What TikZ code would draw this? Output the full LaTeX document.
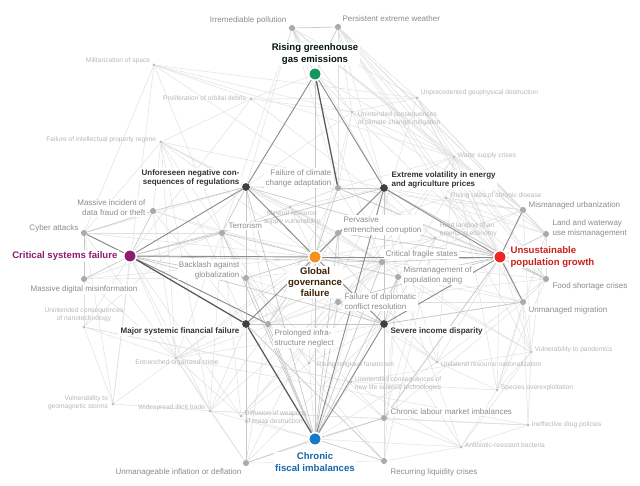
\documentclass[tikz,border=0pt]{standalone}
\usepackage{fontspec}
\setmainfont{Liberation Sans}
\usetikzlibrary{backgrounds}
\definecolor{verde}{HTML}{12975F}
\definecolor{morado}{HTML}{8C1D6F}
\definecolor{naranja}{HTML}{F5901E}
\definecolor{rojo}{HTML}{EC2620}
\definecolor{azul}{HTML}{1A78C8}

\begin{document}
\begin{tikzpicture}[
  x=0.75pt, y=-0.75pt,
  hub/.style={circle, inner sep=0pt, minimum size=9.5pt, draw=white, line width=1.2pt},
  key/.style={circle, inner sep=0pt, minimum size=5.8pt, fill=black!75},
  risk/.style={circle, inner sep=0pt, minimum size=4.6pt, fill=black!33},
  minor/.style={circle, inner sep=0pt, minimum size=2.4pt, fill=black!25},
  hublab/.style={font=\fontsize{7.2}{8.4}\selectfont\bfseries, align=center, inner sep=1pt, fill=white},
  keylab/.style={font=\fontsize{6}{7}\selectfont\bfseries, text=black!80, inner sep=1pt, fill=white},
  risklab/.style={font=\fontsize{6}{7.4}\selectfont, text=black!45, inner sep=1pt, fill=white},
  minorlab/.style={font=\fontsize{5}{6}\selectfont, text=black!28, inner sep=0.5pt},
  faint/.style={black!12, line width=0.35pt},
  mid/.style={black!22, line width=0.5pt},
  dark/.style={black!45, line width=0.7pt},
  darker/.style={black!65, line width=0.95pt}
]
\useasboundingbox (0,0) rectangle (640,486);

% main risks
\node[hub, fill=verde] (ghg) at (315,74) {};
\node[hublab, text=black!85!verde] (ghgt) at (315,54) {Rising greenhouse\\gas emissions};
\node[hub, fill=morado] (csf) at (130,256) {};
\node[hublab, text=morado, anchor=east] (csft) at (119,256) {Critical systems failure};
\node[hub, fill=naranja] (ggf) at (315,257) {};
\node[hublab, text=black!75!naranja] (ggft) at (315,282) {Global\\governance\\failure};
\node[hub, fill=rojo] (upg) at (500,257) {};
\node[hublab, text=black!15!rojo, anchor=west, align=left] (upgt) at (509,257) {Unsustainable\\population growth};
\node[hub, fill=azul] (cfi) at (315,439) {};
\node[hublab, text=black!15!azul] (cfit) at (315,462) {Chronic\\fiscal imbalances};

% linked risks
\node[key] (reg) at (246,187) {};
\node[keylab, anchor=east, align=right] (regt) at (241,178) {Unforeseen negative con-\\sequences of regulations};
\node[key] (vol) at (384,188) {};
\node[keylab, anchor=west, align=left] (volt) at (390,180) {Extreme volatility in energy\\and agriculture prices};
\node[key] (msf) at (246,324) {};
\node[keylab, anchor=east] (msft) at (241,331) {Major systemic financial failure};
\node[key] (sid) at (384,324) {};
\node[keylab, anchor=west] (sidt) at (389,331) {Severe income disparity};

% other risks
\node[risk] (pol) at (292,28) {};
\node[risklab, anchor=east] (polt) at (288,20) {Irremediable pollution};
\node[risk] (wea) at (338,27) {};
\node[risklab, anchor=west] (weat) at (341,19) {Persistent extreme weather};
\node[risk] (fca) at (338,188) {};
\node[risklab, anchor=east, align=right] (fcat) at (333,178) {Failure of climate\\change adaptation};
\node[risk] (cor) at (338,233) {};
\node[risklab, anchor=west, align=left] (cort) at (342,225) {Pervasive\\entrenched corruption};
\node[risk] (ter) at (222,233) {};
\node[risklab, anchor=west] (tert) at (227,226) {Terrorism};
\node[risk] (bag) at (246,278) {};
\node[risklab, anchor=east, align=right] (bagt) at (241,270) {Backlash against\\globalization};
\node[risk] (cfs) at (382,262) {};
\node[risklab, anchor=west] (cfst) at (384,254) {Critical fragile states};
\node[risk] (agi) at (398,277) {};
\node[risklab, anchor=west, align=left] (agit) at (402,275) {Mismanagement of\\population aging};
\node[risk] (dip) at (338,302) {};
\node[risklab, anchor=west, align=left] (dipt) at (343,302) {Failure of diplomatic\\conflict resolution};
\node[risk] (inf) at (268,324) {};
\node[risklab, anchor=west, align=left] (inft) at (273,338) {Prolonged infra-\\structure neglect};
\node[risk] (lab) at (384,418) {};
\node[risklab, anchor=west] (labt) at (389,412) {Chronic labour market imbalances};
\node[risk] (liq) at (384,461) {};
\node[risklab, anchor=west] (liqt) at (389,472) {Recurring liquidity crises};
\node[risk] (ifl) at (246,463) {};
\node[risklab, anchor=east] (iflt) at (243,472) {Unmanageable inflation or deflation};
\node[risk] (fra) at (153,211) {};
\node[risklab, anchor=east, align=right] (frat) at (147,208) {Massive incident of\\data fraud or theft};
\node[risk] (cyb) at (84,233) {};
\node[risklab, anchor=east] (cybt) at (80,228) {Cyber attacks};
\node[risk] (mis) at (84,279) {};
\node[risklab] (mist) at (84,289) {Massive digital misinformation};
\node[risk] (urb) at (523,210) {};
\node[risklab, anchor=west] (urbt) at (527,205) {Mismanaged urbanization};
\node[risk] (lwu) at (546,234) {};
\node[risklab, anchor=west, align=left] (lwut) at (551,228) {Land and waterway\\use mismanagement};
\node[risk] (foo) at (546,279) {};
\node[risklab, anchor=west] (foot) at (551,286) {Food shortage crises};
\node[risk] (mig) at (523,302) {};
\node[risklab, anchor=west] (migt) at (527,310) {Unmanaged migration};

% minor risks
\node[minor] (spa) at (154,65) {};
\node[minorlab, anchor=east] (spat) at (151,61) {Militarization of space};
\node[minor] (orb) at (251,99) {};
\node[minorlab, anchor=east] (orbt) at (247,98) {Proliferation of orbital debris};
\node[minor] (ipr) at (161,142) {};
\node[minorlab, anchor=east] (iprt) at (157,140) {Failure of intellectual property regime};
\node[minor] (geo) at (417,98) {};
\node[minorlab, anchor=west] (geot) at (420,93) {Unprecedented geophysical destruction};
\node[minor] (ccm) at (352,112) {};
\node[minorlab, anchor=west, align=left] (ccmt) at (357,119) {Unintended consequences\\of climate change mitigation};
\node[minor] (wat) at (454,157) {};
\node[minorlab, anchor=west] (watt) at (457,156) {Water supply crises};
\node[minor] (chr) at (446,198) {};
\node[minorlab, anchor=west] (chrt) at (450,196) {Rising rates of chronic disease};
\node[minor] (hla) at (435,238) {};
\node[minorlab, anchor=west, align=left] (hlat) at (439,230) {Hard landing of an\\emerging economy};
\node[minor] (min) at (290,207) {};
\node[minorlab, align=center] (mint) at (292,218) {Mineral resource\\supply vulnerability};
\node[minor] (nan) at (84,327) {};
\node[minorlab, align=center] (nant) at (84,315) {Unintended consequences\\of nanotechnology};
\node[minor] (crm) at (176,358) {};
\node[minorlab] (crmt) at (177,363) {Entrenched organized crime};
\node[minor] (gms) at (113,404) {};
\node[minorlab, anchor=east, align=right] (gmst) at (109,403) {Vulnerability to\\geomagnetic storms};
\node[minor] (ill) at (210,411) {};
\node[minorlab, anchor=east] (illt) at (206,408) {Widespread illicit trade};
\node[minor] (rel) at (309,363) {};
\node[minorlab, anchor=west] (relt) at (316,365) {Rising religious fanaticism};
\node[minor] (lsc) at (351,382) {};
\node[minorlab, anchor=west, align=left] (lsct) at (354,384) {Unintended consequences of\\new life science technologies};
\node[minor] (wmd) at (241,416) {};
\node[minorlab, anchor=west, align=left] (wmdt) at (244,417) {Diffusion of weapons\\of mass destruction};
\node[minor] (nat) at (437,362) {};
\node[minorlab, anchor=west] (natt) at (440,364) {Unilateral resource nationalization};
\node[minor] (pan) at (531,352) {};
\node[minorlab, anchor=west] (pant) at (534,350) {Vulnerability to pandemics};
\node[minor] (spe) at (497,390) {};
\node[minorlab, anchor=west] (spet) at (500,388) {Species overexploitation};
\node[minor] (dru) at (528,425) {};
\node[minorlab, anchor=west] (drut) at (531,425) {Ineffective drug policies};
\node[minor] (bac) at (461,447) {};
\node[minorlab, anchor=west] (bact) at (464,445) {Antibiotic-resistant bacteria};

\begin{scope}[on background layer]
  \fill[white] (0,0) rectangle (640,486);
  % web of weak links
  \foreach \a/\b in {spa/orb, spa/geo, spa/ccm, spa/ter, spa/cyb, spa/gms, spa/fca, spa/wat,
      orb/ipr, orb/geo, orb/ccm, orb/csf, orb/ghg, orb/hla,
      ipr/ill, ipr/crm, ipr/cyb, ipr/fra, ipr/ggf, ipr/reg, ipr/ter, ipr/min, ipr/msf, ipr/vol, ipr/cfs,
      geo/wat, geo/ccm, geo/upg, geo/urb, geo/lwu, geo/cfi, geo/pol, geo/foo, geo/mig,
      ccm/ghg, ccm/fca, ccm/wat, ccm/vol, ccm/ggf, ccm/upg, ccm/reg, ccm/lwu,
      wat/vol, wat/urb, wat/lwu, wat/foo, wat/fca, wat/upg, wat/ghg, wat/pol, wat/wea, wat/chr, wat/mig, wat/cfs, wat/dip,
      chr/urb, chr/agi, chr/lwu, chr/upg, chr/pan, chr/foo, chr/cor,
      hla/vol, hla/upg, hla/cfs, hla/sid, hla/lab, hla/msf, hla/liq, hla/cfi, hla/urb, hla/ggf,
      min/ggf, min/vol, min/reg, min/ter, min/nat, min/cor, min/fca, min/cfs,
      nan/csf, nan/crm, nan/reg, nan/gms, nan/lsc, nan/mis, nan/cyb,
      crm/ill, crm/cor, crm/ter, crm/ggf, crm/cfs, crm/csf, crm/gms, crm/dip, crm/sid, crm/cyb,
      gms/csf, gms/cyb, gms/ill,
      ill/cor, ill/cfi, ill/csf, ill/ter, ill/ifl, ill/cfs, ill/msf, ill/dru,
      rel/ter, rel/cfs, rel/dip, rel/cfi, rel/sid, rel/ggf, rel/bag, rel/wmd,
      lsc/bac, lsc/spe, lsc/pan, lsc/nan, lsc/cfi, lsc/agi,
      wmd/ter, wmd/dip, wmd/cfs, wmd/cfi, wmd/csf, wmd/crm,
      nat/vol, nat/min, nat/spe, nat/cfi, nat/sid, nat/dip, nat/upg, nat/foo, nat/wat,
      pan/mig, pan/bac, pan/urb, pan/dru, pan/upg, pan/spe, pan/lwu, pan/agi, pan/cfs,
      spe/foo, spe/lwu, spe/wat, spe/bac, spe/mig, spe/upg,
      dru/crm, dru/ill, dru/bac, dru/mig, dru/lab,
      bac/cfi, bac/lab, bac/liq, bac/sid, bac/agi,
      pol/fca, pol/lwu, pol/urb, pol/reg, pol/vol, pol/cfs, pol/ccm, pol/ter,
      wea/fca, wea/vol, wea/upg, wea/foo, wea/mig, wea/urb, wea/lwu, wea/ccm, wea/geo, wea/chr,
      cyb/ggf, cyb/inf, cyb/ter, cyb/reg, fra/ggf, fra/ter, fra/msf, fra/crm, mis/ggf, mis/ter, mis/bag, mis/crm,
      ter/cfs, ter/dip, ter/bag, bag/sid, bag/lab, bag/msf, bag/cfs, cor/cfs, cor/dip, cor/agi,
      cfs/dip, cfs/mig, cfs/foo, agi/lab, agi/mig, agi/liq, dip/mig, dip/foo, dip/inf,
      inf/urb, inf/lab, inf/ifl, inf/liq, lab/mig, lab/upg, lab/ifl, liq/sid, liq/ifl, liq/vol,
      ifl/vol, ifl/sid, ifl/crm, foo/mig, foo/vol, urb/lwu, lwu/foo, urb/fca, urb/vol, mig/sid, lwu/vol,
      fca/foo, fca/cfs, fca/ter, fca/inf, reg/bag, reg/inf, reg/cor, vol/msf, vol/lab, vol/agi, sid/reg}
    \draw[faint] (\a) -- (\b);
  % medium links
  \foreach \a/\b in {ghg/pol, ghg/wea, pol/wea, ghg/ggf, csf/fra, csf/mis, csf/bag, csf/ter, csf/cfs, csf/vol, csf/sid,
      ggf/ter, ggf/cor, ggf/bag, ggf/cfs, ggf/dip, ggf/fca, ggf/inf, ggf/cfi, ggf/agi,
      upg/lwu, upg/foo, upg/cfs, upg/agi, upg/reg, upg/fca, upg/cor, upg/dip, upg/lab,
      cfi/lab, cfi/liq, cfi/ifl, cfi/inf, cfi/dip, cfi/cor, cfi/cfs, cfi/agi, cfi/bag, cfi/ter, cfi/reg,
      reg/fra, reg/ter, reg/fca, reg/msf, vol/fca, vol/cor, vol/sid, vol/foo,
      msf/sid, msf/ifl, msf/liq, msf/inf, sid/lab, sid/dip, sid/mig, sid/agi, cyb/fra, cyb/mis}
    \draw[mid] (\a) -- (\b);
  % strong links
  \foreach \a/\b in {ghg/reg, ghg/vol, csf/reg, csf/ggf, csf/inf, csf/cyb,
      ggf/reg, ggf/vol, ggf/msf, ggf/sid, ggf/upg, upg/vol, upg/sid, upg/urb, upg/mig,
      cfi/sid, cfi/vol}
    \draw[dark] (\a) -- (\b);
  \foreach \a/\b in {ghg/fca, csf/msf, cfi/msf}
    \draw[darker] (\a) -- (\b);
\end{scope}
\end{tikzpicture}
\end{document}
